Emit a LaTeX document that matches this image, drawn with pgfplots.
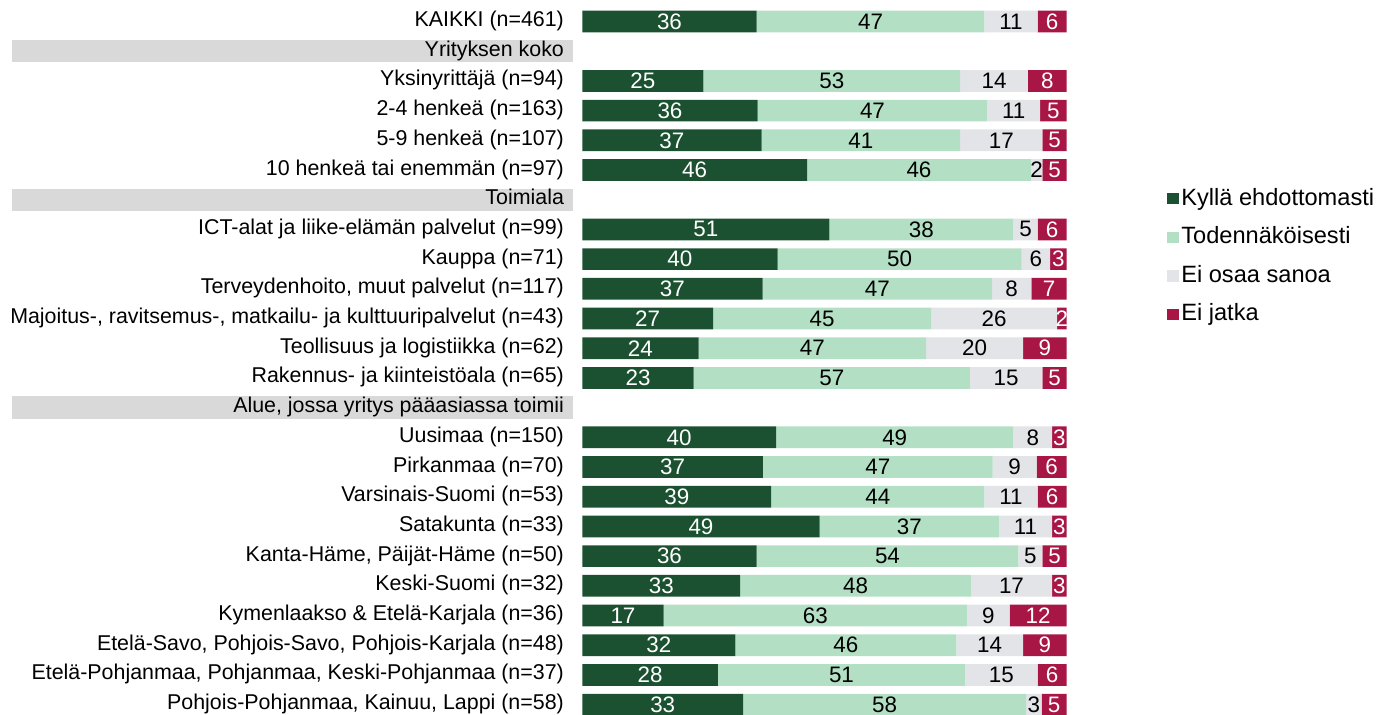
\documentclass[border=0pt]{standalone}
\usepackage{pgfplots}
\pgfplotsset{compat=1.18}
\usepackage{pgfplotstable}
\usepackage{fontspec}
\setmainfont{Liberation Sans}
\definecolor{cA}{HTML}{1B5131}
\definecolor{cB}{HTML}{B3E0C5}
\definecolor{cC}{HTML}{E3E4E8}
\definecolor{cD}{HTML}{A81646}
\definecolor{band}{HTML}{D9D9D9}

\pgfplotstableread{
row a b c d la lb lc ld
0 36 47 11 6 36 47 11 6
2 25 53 14 8 25 53 14 8
3 36.2 47.4 10.9 5.5 36 47 11 5
4 37 41 17 5 37 41 17 5
5 46.4 46.2 2.4 5.0 46 46 2 5
7 51 38 5 6 51 38 5 6
8 40.3 50.4 5.9 3.4 40 50 6 3
9 37.2 47.4 8.1 7.3 37 47 8 7
10 27 45 26 2 27 45 26 2
11 24 47 20 9 24 47 20 9
12 23 57 15 5 23 57 15 5
14 40 49 8 3 40 49 8 3
15 37.3 47.4 9.1 6.2 37 47 9 6
16 39 44 11 6 39 44 11 6
17 49 37 11 3 49 37 11 3
18 36 54 5 5 36 54 5 5
19 32.6 47.6 16.8 3.0 33 48 17 3
20 16.8 62.6 8.8 11.8 17 63 9 12
21 31.6 45.6 13.8 9.0 32 46 14 9
22 28 51 15 6 28 51 15 6
23 33.2 58.4 3.2 5.2 33 58 3 5
}\data

\pgfplotsset{
  myleg/.style={legend image code/.code={\fill[##1] (0pt,-2.8pt) rectangle (6.3pt,2.8pt);}},
}

\begin{document}
\begin{tikzpicture}
\path[use as bounding box] (0,0) rectangle (690pt,-357.5pt);
% header bands (behind the tick labels)
\fill[band] (6pt,-20.025pt) rectangle (286.5pt,-31.175pt);
\fill[band] (6pt,-94.275pt) rectangle (286.5pt,-105.425pt);
\fill[band] (6pt,-198.225pt) rectangle (286.5pt,-209.375pt);
\begin{axis}[
  at={(291.15pt,-3.325pt)}, anchor=north west,
  scale only axis, width=242.2pt, height=356.4pt,
  xbar stacked, bar width=10.85pt,
  xmin=0, xmax=100, ymin=-0.5, ymax=23.5, y dir=reverse,
  axis line style={draw=none}, xtick=\empty,
  ytick={0,...,23},
  yticklabels={
    {KAIKKI (n=461)},
    {Yrityksen koko},
    {Yksinyrittäjä (n=94)},
    {2-4 henkeä (n=163)},
    {5-9 henkeä (n=107)},
    {10 henkeä tai enemmän (n=97)},
    {Toimiala},
    {ICT-alat ja liike-elämän palvelut (n=99)},
    {Kauppa (n=71)},
    {Terveydenhoito, muut palvelut (n=117)},
    {Majoitus-, ravitsemus-, matkailu- ja kulttuuripalvelut (n=43)},
    {Teollisuus ja logistiikka (n=62)},
    {Rakennus- ja kiinteistöala (n=65)},
    {Alue, jossa yritys pääasiassa toimii},
    {Uusimaa (n=150)},
    {Pirkanmaa (n=70)},
    {Varsinais-Suomi (n=53)},
    {Satakunta (n=33)},
    {Kanta-Häme, Päijät-Häme (n=50)},
    {Keski-Suomi (n=32)},
    {Kymenlaakso \& Etelä-Karjala (n=36)},
    {Etelä-Savo, Pohjois-Savo, Pohjois-Karjala (n=48)},
    {Etelä-Pohjanmaa, Pohjanmaa, Keski-Pohjanmaa (n=37)},
    {Pohjois-Pohjanmaa, Kainuu, Lappi (n=58)}
  },
  ytick style={draw=none},
  major tick length=0pt,
  yticklabel style={font=\fontsize{10.7}{12}\selectfont, inner sep=0pt,
    text height=0.75em, text depth=0.25em, xshift=-9pt},
  clip=false,
  point meta=explicit,
  nodes near coords,
  nodes near coords style={font=\fontsize{11.2}{13}\selectfont, anchor=center,
    inner sep=0pt},
  /pgf/number format/assume math mode=true,
  legend style={at={(axis cs:120.65,5.576)}, anchor=north west,
    draw=none, fill=none, inner sep=0pt, outer sep=0pt,
    row sep=7.7pt, column sep=1pt,
    nodes={font=\fontsize{11.8}{13}\selectfont, inner sep=0pt, text height=9pt, text depth=2.6pt}},
  legend cell align=left,
]
\addplot[fill=cA, draw=none, myleg, every node near coord/.append style={text=white}]
  table[x=a, y=row, meta=la]{\data};
\addplot[fill=cB, draw=none, myleg, every node near coord/.append style={text=black}]
  table[x=b, y=row, meta=lb]{\data};
\addplot[fill=cC, draw=none, myleg, every node near coord/.append style={text=black}]
  table[x=c, y=row, meta=lc]{\data};
\addplot[fill=cD, draw=none, myleg, every node near coord/.append style={text=white}]
  table[x=d, y=row, meta=ld]{\data};
\legend{Kyllä ehdottomasti, Todennäköisesti, Ei osaa sanoa, Ei jatka}
\end{axis}
\end{tikzpicture}
\end{document}
